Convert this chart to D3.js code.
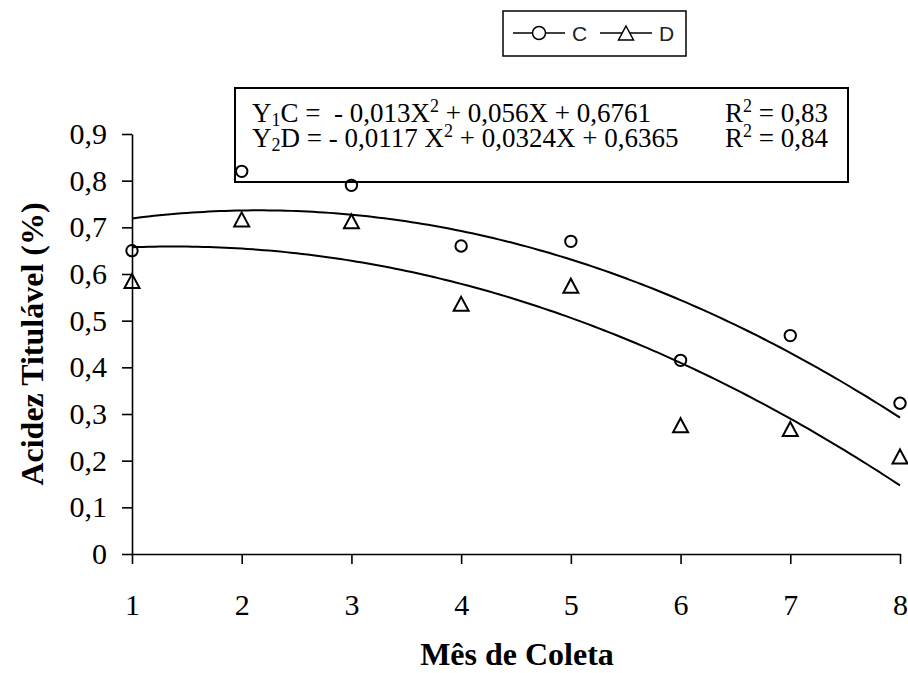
<!DOCTYPE html>
<html>
<head>
<meta charset="utf-8">
<script src="https://cdn.jsdelivr.net/npm/d3@7"></script>
<style>
  body { margin: 0; background: #fff; }
  svg { display: block; }
</style>
</head>
<body>
<div id="chart"></div>
<script>
// data
var months = [1, 2, 3, 4, 5, 6, 7, 8];
var valuesC = [0.65, 0.82, 0.79, 0.66, 0.67, 0.415, 0.468, 0.323];
var valuesD = [0.585, 0.717, 0.713, 0.536, 0.575, 0.276, 0.268, 0.209];
var yTicks = [0, 0.1, 0.2, 0.3, 0.4, 0.5, 0.6, 0.7, 0.8, 0.9];
// trend line coefficients (a, b, c) of aX^2 + bX + c, as printed in the chart
var coefC = [-0.013, 0.056, 0.6761];
var coefD = [-0.0117, 0.0324, 0.6365];
var seriesNames = ["C", "D"];

(function () {
    var width = 908,
        height = 673;

    var svg = d3.select('#chart')
                .append('svg')
                .attr('width', width)
                .attr('height', height);

    var xScale = d3.scaleLinear()
                    .domain([1, 8])
                    .range([132, 900]);

    var yScale = d3.scaleLinear()
                    .domain([0, 0.9])
                    .range([554, 134]);

    var serif = "'Liberation Serif', 'Times New Roman', serif";
    var fmt = function (d) { return d === 0 ? "0" : d3.format(".1f")(d).replace(".", ","); };

    // equation box (drawn first so markers sit on top)
    var box = svg.append("g");
    box.append("rect")
        .attr("x", 235).attr("y", 88)
        .attr("width", 613).attr("height", 94)
        .attr("fill", "#fff")
        .attr("stroke", "#000")
        .attr("stroke-width", 2);

    function eqLine(y, name, sub, parts) {
        var t = box.append("text")
            .attr("x", 252).attr("y", y)
            .style("font-family", serif)
            .style("font-size", "27px")
            .style("white-space", "pre");
        t.append("tspan").text("Y");
        t.append("tspan").attr("font-size", "18px").attr("dy", 4).text(sub);
        t.append("tspan").attr("dy", -4).text(name + parts[0]);
        t.append("tspan").attr("font-size", "18px").attr("dy", -10).text("2");
        t.append("tspan").attr("dy", 10).text(parts[1]);
    }
    eqLine(122, "C", "1", [" =  - 0,013X", " + 0,056X + 0,6761"]);
    eqLine(147, "D", "2", [" = - 0,0117 X", " + 0,0324X + 0,6365"]);

    function r2Line(y, val) {
        var t = box.append("text")
            .attr("x", 725).attr("y", y)
            .style("font-family", serif)
            .style("font-size", "27px")
            .style("white-space", "pre");
        t.append("tspan").text("R");
        t.append("tspan").attr("font-size", "18px").attr("dy", -10).text("2");
        t.append("tspan").attr("dy", 10).text(" = " + val);
    }
    r2Line(122, "0,83");
    r2Line(147, "0,84");

    // axes
    var xAxis = svg.append("g")
        .attr("transform", "translate(0," + yScale(0) + ")")
        .call(d3.axisBottom(xScale).tickValues(months).tickFormat(d3.format("d")).tickSize(10).tickSizeOuter(0));
    xAxis.selectAll("text")
        .attr("y", 61).attr("dy", 0)
        .style("font-family", serif)
        .style("font-size", "30px")
        .attr("fill", "#000");

    var yAxis = svg.append("g")
        .attr("transform", "translate(" + xScale(1) + ",0)")
        .call(d3.axisLeft(yScale).tickValues(yTicks).tickFormat(fmt).tickSize(10).tickPadding(15).tickSizeOuter(0));
    yAxis.selectAll("text")
        .style("font-family", serif)
        .style("font-size", "30px")
        .attr("fill", "#000");

    svg.selectAll(".domain, .tick line")
        .attr("stroke", "#000")
        .attr("stroke-width", 1.6);

    // trend curves
    var xs = d3.range(1, 8.0001, 0.05);
    function curve(coef) {
        return xs.map(function (x) { return [x, coef[0] * x * x + coef[1] * x + coef[2]]; });
    }
    var line = d3.line()
        .x(function (d) { return xScale(d[0]); })
        .y(function (d) { return yScale(d[1]); });

    [coefC, coefD].forEach(function (coef) {
        svg.append("path")
            .datum(curve(coef))
            .attr("d", line)
            .attr("fill", "none")
            .attr("stroke", "#000")
            .attr("stroke-width", 2);
    });

    var triPath = "M0,-7L7.5,7L-7.5,7Z";

    // markers
    svg.selectAll(".ptC")
        .data(valuesC)
        .enter()
        .append("circle")
        .attr("class", "ptC")
        .attr("cx", function (d, i) { return xScale(months[i]); })
        .attr("cy", function (d) { return yScale(d); })
        .attr("r", 5.7)
        .attr("fill", "none")
        .attr("stroke", "#000")
        .attr("stroke-width", 2);

    svg.selectAll(".ptD")
        .data(valuesD)
        .enter()
        .append("path")
        .attr("class", "ptD")
        .attr("d", triPath)
        .attr("transform", function (d, i) { return "translate(" + xScale(months[i]) + "," + yScale(d) + ")"; })
        .attr("fill", "none")
        .attr("stroke", "#000")
        .attr("stroke-width", 2);

    // axis titles
    svg.append("text")
        .attr("x", 517).attr("y", 665)
        .attr("text-anchor", "middle")
        .style("font-family", serif)
        .style("font-weight", "bold")
        .style("font-size", "32px")
        .text("Mês de Coleta");

    svg.append("text")
        .attr("transform", "translate(43,344) rotate(-90)")
        .attr("text-anchor", "middle")
        .style("font-family", serif)
        .style("font-weight", "bold")
        .style("font-size", "32px")
        .text("Acidez Titulável (%)");

    // legend
    var legend = svg.append("g");
    legend.append("rect")
        .attr("x", 503).attr("y", 11)
        .attr("width", 183).attr("height", 45)
        .attr("fill", "#fff")
        .attr("stroke", "#000")
        .attr("stroke-width", 1.5);

    var items = legend.selectAll(".item")
        .data(seriesNames)
        .enter()
        .append("g")
        .attr("transform", function (d, i) { return "translate(" + (513 + i * 87) + ",33)"; });

    items.append("line")
        .attr("x1", 0).attr("x2", 52)
        .attr("stroke", "#000")
        .attr("stroke-width", 1.5);

    items.filter(function (d, i) { return i === 0; })
        .append("circle")
        .attr("cx", 26).attr("r", 6.5)
        .attr("fill", "#fff")
        .attr("stroke", "#000")
        .attr("stroke-width", 1.5);

    items.filter(function (d, i) { return i === 1; })
        .append("path")
        .attr("d", triPath)
        .attr("transform", "translate(26,0)")
        .attr("fill", "#fff")
        .attr("stroke", "#000")
        .attr("stroke-width", 1.5);

    items.append("text")
        .attr("x", 59).attr("y", 8)
        .style("font-family", "'Liberation Sans', Arial, sans-serif")
        .style("font-size", "21px")
        .attr("fill", "#222")
        .text(function (d) { return d; });
})();
</script>
</body>
</html>
